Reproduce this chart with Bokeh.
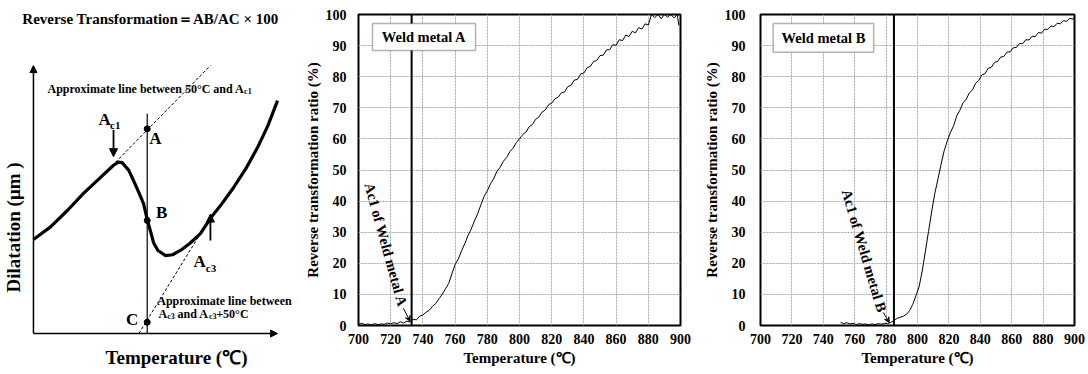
from bokeh.plotting import figure
from bokeh.layouts import row, column
from bokeh.models import Range1d, Arrow, NormalHead, VeeHead, BoxAnnotation, Label, FixedTicker, Span
from bokeh.embed import file_html
from bokeh.resources import INLINE
from bokeh.core.properties import value

SERIF = "Liberation Serif"

# ---------------- data ----------------
# schematic dilatation curve (abstract units: temperature 0-100, dilatation 0-100)
schem_T = [0.0, 7.0, 14.0, 20.5, 27.5, 32.8, 34.8, 36.3, 39.0, 41.0, 43.2, 45.1, 46.7, 48.0, 49.2,
           51.0, 54.1, 57.0, 60.2, 64.0, 68.4, 72.5, 77.0, 82.0, 87.0, 91.8, 96.0, 100.0]
schem_D = [35.1, 39.8, 46.0, 52.3, 58.3, 62.8, 64.0, 63.8, 61.0, 57.1, 52.6, 48.5, 42.2, 38.0, 33.9,
           31.0, 29.1, 29.4, 31.0, 33.6, 37.3, 43.0, 48.2, 54.5, 61.5, 69.4, 77.5, 86.9]
line_ac1_T = [33.6, 72.5]
line_ac1_D = [63.9, 100.0]
line_ac3_T = [43.2, 72.5]
line_ac3_D = [0.0, 43.4]
vert_T = [46.6, 46.6]
vert_D = [0.0, 82.0]
pts_T = [46.6, 46.6, 46.6]
pts_D = [76.4, 42.2, 4.2]

# Weld metal A
tempA = [700, 702, 704, 706, 708, 710, 712, 714, 716, 718, 720, 722, 724, 726, 728, 730, 732, 734, 736,
         738, 740, 742, 744, 746, 748, 750, 752, 754, 756, 758, 760, 762, 764, 766, 768, 770, 772, 774,
         776, 778, 780, 782, 784, 786, 788, 790, 792, 794, 796, 798, 800, 802, 804, 806, 808, 810, 812,
         814, 816, 818, 820, 822, 824, 826, 828, 830, 832, 834, 836, 838, 840, 842, 844, 846, 848, 850,
         852, 854, 856, 858, 860, 862, 864, 866, 868, 870, 872, 874, 876, 878, 880, 882, 884, 886, 888,
         890, 892, 894, 896, 898, 899]
ratioA = [0.4, 0.7, 0.3, 0.5, 0.2, 0.6, 0.3, 0.5, 0.4, 0.8, 0.5, 0.9, 0.6, 1.2, 0.8, 1.4, 1.1, 2.0, 1.8,
          3.0, 3.4, 4.3, 4.9, 6.2, 7.1, 8.6, 10.0, 11.8, 13.5, 16.6, 19.6, 21.4, 24.0, 26.3, 28.9, 31.0,
          33.6, 35.9, 38.8, 41.5, 43.3, 45.6, 47.2, 49.6, 50.9, 52.8, 54.0, 55.9, 57.0, 58.8, 60.0, 61.4,
          62.2, 63.9, 64.6, 66.3, 67.0, 68.6, 69.3, 71.0, 71.5, 72.9, 73.4, 74.8, 75.1, 76.8, 77.2, 78.9,
          79.1, 80.9, 81.2, 82.9, 83.3, 84.9, 85.2, 86.8, 86.9, 88.6, 88.7, 90.3, 90.1, 91.9, 91.6, 93.4,
          92.9, 94.6, 94.1, 95.8, 95.3, 97.0, 96.6, 100.0, 99.0, 100.0, 98.6, 100.0, 99.2, 100.0, 98.9,
          100.0, 96.5]

# Weld metal B
tempB = [751, 753, 755, 757, 759, 761, 763, 765, 767, 769, 771, 773, 775, 777, 779, 781, 783, 785, 787,
         789, 791, 793, 795, 797, 799, 801, 803, 805, 807, 809, 811, 813, 815, 817, 819, 821, 823, 825,
         827, 829, 831, 833, 835, 837, 839, 841, 843, 845, 847, 849, 851, 853, 855, 857, 859, 861, 863,
         865, 867, 869, 871, 873, 875, 877, 879, 881, 883, 885, 887, 889, 891, 893, 895, 897, 899, 900]
ratioB = [1.0, 0.6, 0.9, 0.5, 0.7, 0.3, 0.6, 0.4, 0.5, 0.2, 0.5, 0.3, 0.6, 0.4, 0.7, 0.6, 1.0, 1.6, 2.3,
          2.6, 3.0, 3.6, 4.8, 6.8, 9.6, 12.4, 17.5, 23.8, 30.2, 36.5, 42.4, 47.0, 51.8, 56.2, 59.4, 62.1,
          64.2, 67.4, 69.2, 71.6, 72.7, 74.8, 75.7, 77.9, 78.8, 80.6, 81.0, 82.7, 83.0, 84.6, 84.9, 86.3,
          86.5, 87.9, 88.0, 89.3, 89.4, 90.7, 90.6, 91.9, 91.8, 93.0, 92.9, 94.2, 94.0, 95.3, 95.2, 96.3,
          96.1, 97.2, 97.0, 98.0, 97.8, 98.8, 98.5, 99.3]

x_ticks = [700, 720, 740, 760, 780, 800, 820, 840, 860, 880, 900]
y_ticks = [0, 10, 20, 30, 40, 50, 60, 70, 80, 90, 100]
ac1_A = 733
ac1_B = 785

# ---------------- schematic ----------------
s = figure(width=300, height=374, x_range=Range1d(-13.5, 109.4), y_range=Range1d(-15.3, 124.3),
           x_axis_type=None, y_axis_type=None, toolbar_location=None, output_backend="svg",
           min_border=0, min_border_left=0, min_border_right=0, min_border_top=0, min_border_bottom=0,
           outline_line_color=None)
s.grid.visible = False

s.add_layout(Arrow(x_start=0, y_start=0, x_end=0, y_end=100, line_width=1.5, line_color="black",
                   end=NormalHead(size=7, fill_color="black", line_color="black")))
s.add_layout(Arrow(x_start=0, y_start=0, x_end=100, y_end=0, line_width=1.5, line_color="black",
                   end=NormalHead(size=7, fill_color="black", line_color="black")))
s.line(line_ac1_T, line_ac1_D, line_dash="3 2", line_color="black", line_width=1)
s.line(line_ac3_T, line_ac3_D, line_dash="3 2", line_color="black", line_width=1)
s.line(vert_T, vert_D, line_color="black", line_width=1.2)
s.line(schem_T, schem_D, line_color="black", line_width=3.2)
s.scatter(pts_T, pts_D, size=6, color="black")
s.add_layout(Arrow(x_start=32.8, y_start=76.0, x_end=32.8, y_end=66.0, line_width=1.8,
                   end=NormalHead(size=8, fill_color="black")))
s.add_layout(Arrow(x_start=72.5, y_start=34.7, x_end=72.5, y_end=44.6, line_width=1.8,
                   end=NormalHead(size=8, fill_color="black")))

def stext(x, y, t, size, align="left", baseline="middle", angle=0.0):
    s.text(x=[x], y=[y], text=[t], text_font=value(SERIF), text_font_style="bold",
           text_font_size=size, text_align=align, text_baseline=baseline, angle=angle,
           text_color="black")

stext(47.9, 117.5, "Reverse Transformation＝AB/AC × 100", "15px", align="center")
stext(-8.0, 39.6, "Dilatation (μm )", "19px", align="center", angle=1.5708)
stext(58.6, -9.0, "Temperature (℃)", "19px", align="center")
stext(5.74, 91.4, "Approximate line between 50°C and A", "12px")
stext(86.3, 90.2, "c1", "8px")
stext(26.6, 79.9, "A", "17px")
stext(31.4, 77.9, "c1", "11px")
stext(50.0, 72.9, "A", "17px", align="center")
stext(52.5, 45.1, "B", "17px", align="center")
stext(40.4, 5.2, "C", "17px", align="center")
stext(65.6, 26.9, "A", "17px")
stext(70.6, 24.6, "c3", "11px")
stext(50.7, 12.3, "Approximate line between", "12px")
stext(51.23, 7.2, "A", "12px")
stext(54.8, 6.2, "c3", "8px")
stext(59.0, 7.2, "and A", "12px")
stext(71.9, 6.2, "c3", "8px")
stext(74.9, 7.2, "+50°C", "12px")

# ---------------- ratio charts ----------------
def ratio_chart(width, left, right, temps, ratios, ac1, box, label, ann_xy, ann_angle, arrow_pts, label_standoff):
    p = figure(width=width, height=374, x_range=Range1d(700, 900), y_range=Range1d(0, 100),
               toolbar_location=None, output_backend="svg",
               min_border_left=left, min_border_right=right, min_border_top=14, min_border_bottom=49,
               outline_line_color="black", outline_line_width=2)
    p.xaxis.ticker = FixedTicker(ticks=x_ticks)
    p.yaxis.ticker = FixedTicker(ticks=y_ticks)
    for ax in (p.xaxis[0], p.yaxis[0]):
        ax.axis_line_color = None
        ax.major_tick_line_color = None
        ax.minor_tick_line_color = None
        ax.major_tick_out = 0
        ax.major_tick_in = 0
        ax.major_label_text_font = SERIF
        ax.major_label_text_font_style = "bold"
        ax.major_label_text_font_size = "14px"
        ax.major_label_text_color = "black"
        ax.axis_label_text_font = SERIF
        ax.axis_label_text_font_style = "bold"
        ax.axis_label_text_font_size = "15px"
        ax.axis_label_text_color = "black"
    p.xaxis.axis_label = "Temperature (℃)"
    p.yaxis.axis_label = "Reverse transformation ratio (%)"
    p.xaxis.major_label_standoff = 8
    p.xaxis.axis_label_standoff = 3
    p.yaxis.major_label_standoff = label_standoff
    p.yaxis.axis_label_standoff = 2
    p.grid.grid_line_color = "#a8a8a8"
    p.grid.grid_line_width = 1
    p.grid.grid_line_dash = "2 1"
    p.line(temps, ratios, line_color="black", line_width=1)
    p.add_layout(Span(location=ac1, dimension="height", line_color="black", line_width=2))
    p.add_layout(BoxAnnotation(left=box[0], right=box[1], bottom=box[2], top=box[3],
                               fill_color="white", fill_alpha=1, line_color="black", line_width=1.5))
    p.add_layout(Label(x=(box[0] + box[1]) / 2, y=(box[2] + box[3]) / 2, text=label,
                       text_font=SERIF, text_font_style="bold", text_font_size="14.5px",
                       text_align="center", text_baseline="middle", text_color="black"))
    p.text(x=[ann_xy[0]], y=[ann_xy[1]], text=[ann_xy[2]], angle=ann_angle,
           text_font=value(SERIF), text_font_style="bold", text_font_size="14.5px",
           text_align="center", text_baseline="middle", text_color="black")
    p.add_layout(Arrow(x_start=arrow_pts[0], y_start=arrow_pts[1], x_end=arrow_pts[2], y_end=arrow_pts[3],
                       line_width=1, end=VeeHead(size=5, line_width=1)))
    return p

pA = ratio_chart(400, 58, 20, tempA, ratioA, ac1_A, (708.7, 772.7, 88.4, 97.1), "Weld metal A",
                 (717.1, 25.9, "Ac1 of Weld metal A"), -1.302, (727.9, 5.5, 732.0, 1.4), 12)
pB = ratio_chart(388, 52, 14, tempB, ratioB, ac1_B, (708.1, 772.1, 87.9, 97.1), "Weld metal B",
                 (766.1, 24.0, "Ac1 of Weld metal B"), -1.283, (778.2, 4.2, 782.0, 1.0), 15)

layout = row(column(s), pA, pB)
open("out.html", "w").write(file_html(layout, INLINE))
